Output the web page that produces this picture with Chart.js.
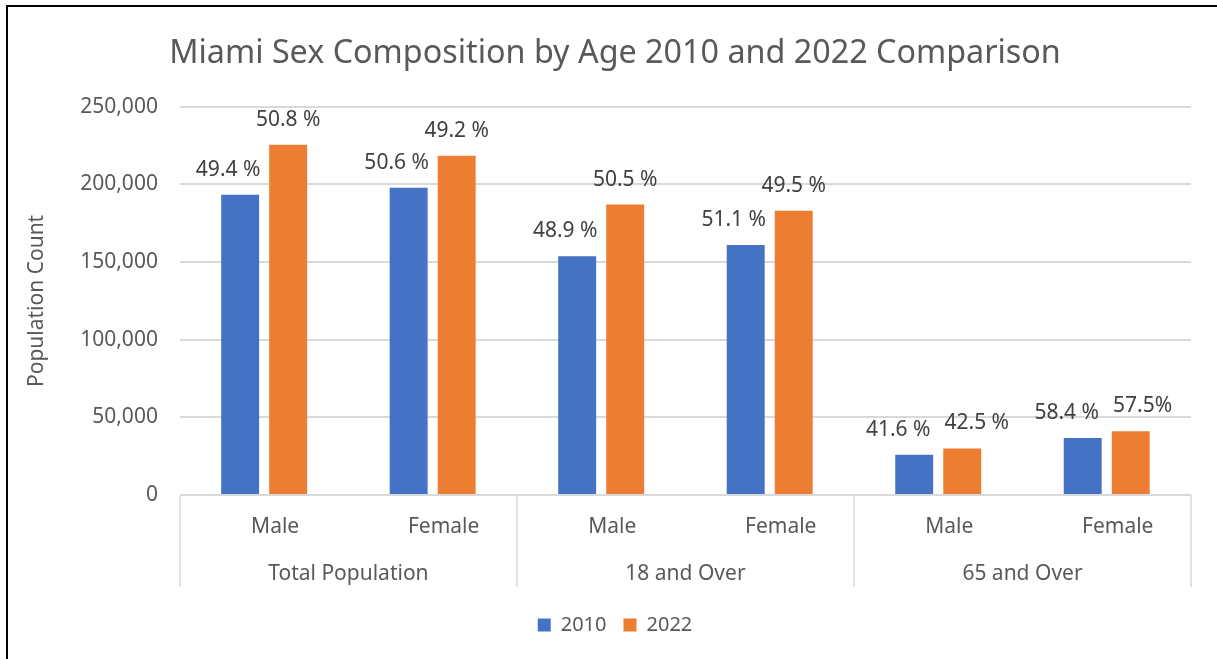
<!DOCTYPE html>
<html>
<head>
<meta charset="utf-8">
<script src="https://cdn.jsdelivr.net/npm/chart.js@4.4.1/dist/chart.umd.min.js"></script>
<style>
html, body { margin: 0; padding: 0; background: #fff; overflow: hidden; }
#wrap { position: relative; width: 1217px; height: 659px; }
#frame { position: absolute; left: 6px; top: 5px; width: 1300px; height: 700px; border-left: 2px solid #000; border-top: 2px solid #000; pointer-events: none; }
</style>
</head>
<body>
<div id="wrap">
  <canvas id="chart" width="1217" height="659"></canvas>
  <div id="frame"></div>
</div>
<script>
const groups = ['Total Population', '18 and Over', '65 and Over'];
const categories = ['Male', 'Female', 'Male', 'Female', 'Male', 'Female'];
const pop2010 = [193300, 197800, 153800, 161000, 25900, 36700];
const pop2022 = [225500, 218400, 187000, 183000, 30000, 41000];
const pct2010 = ['49.4 %', '50.6 %', '48.9 %', '51.1 %', '41.6 %', '58.4 %'];
const pct2022 = ['50.8 %', '49.2 %', '50.5 %', '49.5 %', '42.5 %', '57.5%'];
const yTicks = [0, 50000, 100000, 150000, 200000, 250000];

const FONT = "'Noto Sans', sans-serif";
const GREY = '#595959';

// percentage labels above the bars
const barLabels = {
    id: 'barLabels',
    afterDatasetsDraw(chart) {
        const ctx = chart.ctx;
        const bars0 = chart.getDatasetMeta(0).data;
        const bars1 = chart.getDatasetMeta(1).data;
        ctx.save();
        ctx.font = '21px ' + FONT;
        ctx.fillStyle = '#404040';
        ctx.textAlign = 'center';
        ctx.textBaseline = 'middle';
        bars0.forEach((b0, i) => {
            const b1 = bars1[i];
            const y0 = b0.y - 25, y1 = b1.y - 25;
            let x0 = b0.x - 12, x1 = b1.x;
            // labels at nearly the same height: push them apart
            if (Math.abs(y0 - y1) < 24) {
                x0 = b0.x - 16;
                const w0 = ctx.measureText(pct2010[i]).width;
                const w1 = ctx.measureText(pct2022[i]).width;
                x1 = Math.max(x1, x0 + w0 / 2 + 14 + w1 / 2);
            }
            ctx.fillText(pct2010[i], x0, y0);
            ctx.fillText(pct2022[i], x1, y1);
        });
        ctx.restore();
    }
};

// second level of the category axis: group names and separators
const groupAxis = {
    id: 'groupAxis',
    afterDraw(chart) {
        const x = chart.scales.x;
        const ctx = chart.ctx;
        const bottom = chart.chartArea.bottom;
        const per = categories.length / groups.length;
        const step = (x.right - x.left) / groups.length;
        ctx.save();
        ctx.strokeStyle = '#d9d9d9';
        ctx.lineWidth = 1.5;
        for (let i = 0; i <= groups.length; i++) {
            const px = Math.round(x.left + i * step);
            ctx.beginPath();
            ctx.moveTo(px, bottom);
            ctx.lineTo(px, bottom + 92);
            ctx.stroke();
        }
        ctx.font = '21px ' + FONT;
        ctx.fillStyle = GREY;
        ctx.textAlign = 'center';
        ctx.textBaseline = 'middle';
        groups.forEach((g, i) => {
            const a = x.getPixelForValue(i * per);
            const b = x.getPixelForValue(i * per + per - 1);
            ctx.fillText(g, (a + b) / 2, bottom + 79);
        });
        ctx.restore();
    }
};

new Chart(document.getElementById('chart'), {
    type: 'bar',
    data: {
        labels: categories,
        datasets: [{
            label: '2010',
            data: pop2010,
            backgroundColor: '#4472C4',
            categoryPercentage: 0.57,
            barPercentage: 0.79
        }, {
            label: '2022',
            data: pop2022,
            backgroundColor: '#ED7D31',
            categoryPercentage: 0.57,
            barPercentage: 0.79
        }]
    },
    options: {
        responsive: false,
        animation: false,
        layout: { padding: { left: 13, right: 0, top: 0, bottom: 14 } },
        scales: {
            y: {
                min: 0,
                max: 250000,
                afterBuildTicks: scale => { scale.ticks = yTicks.map(v => ({ value: v })); },
                grid: { color: '#d9d9d9', lineWidth: 2, drawTicks: false },
                border: { display: false },
                ticks: {
                    color: GREY,
                    font: { family: FONT, size: 21 },
                    padding: 22,
                    callback: v => v.toLocaleString('en-US')
                },
                title: {
                    display: true,
                    text: 'Population Count',
                    color: GREY,
                    font: { family: FONT, size: 21 },
                    padding: { top: 11, bottom: 9 }
                }
            },
            // empty right axis, only keeps the plot clear of the right edge
            yR: {
                position: 'right',
                grid: { display: false, drawTicks: false },
                border: { display: false },
                ticks: { display: false },
                afterFit: scale => { scale.width = 26; }
            },
            x: {
                grid: { display: false, drawTicks: false },
                border: { display: false },
                ticks: { color: GREY, font: { family: FONT, size: 21 }, padding: 19, labelOffset: 11 },
                // room below the tick labels for the group names
                afterFit: scale => { scale.height = 103; }
            }
        },
        plugins: {
            title: {
                display: true,
                text: 'Miami Sex Composition by Age 2010 and 2022 Comparison',
                color: GREY,
                font: { family: FONT, size: 32.3, weight: 'normal' },
                padding: { top: 34, bottom: 34 }
            },
            legend: {
                position: 'bottom',
                labels: {
                    color: GREY,
                    font: { family: FONT, size: 20 },
                    boxWidth: 13,
                    boxHeight: 13,
                    padding: 17
                }
            },
            tooltip: { enabled: false }
        }
    },
    plugins: [barLabels, groupAxis]
});
</script>
</body>
</html>
